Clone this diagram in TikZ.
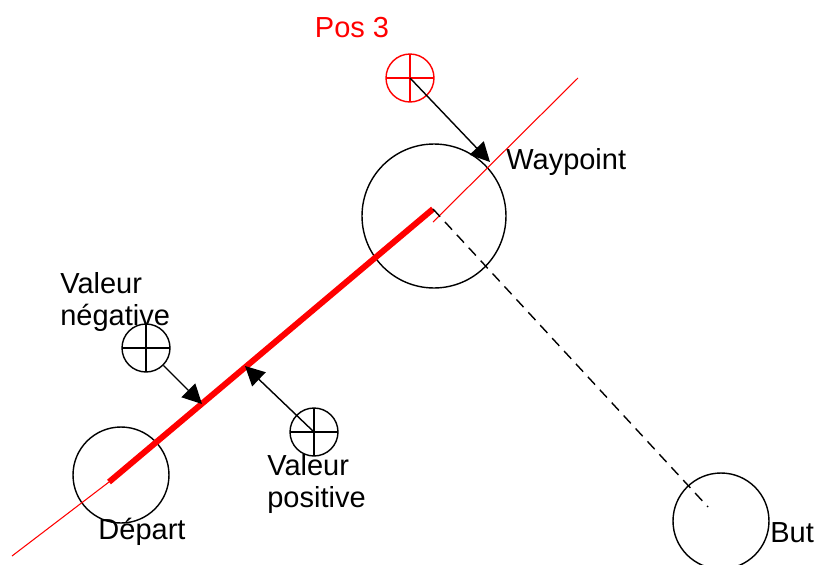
\documentclass[tikz,border=0pt]{standalone}
\usepackage{fontspec}
\setmainfont{Liberation Sans}
\usepackage{tikz}
\usetikzlibrary{arrows.meta,positioning}

\begin{document}
\begin{tikzpicture}[
  x=0.02cm,y=-0.02cm,
  zone/.style={draw,circle,line width=0.8pt,inner sep=0pt,minimum size=#1},
  cible/.style={draw=#1,circle,line width=0.8pt,inner sep=0pt,minimum size=0.96cm,
                path picture={\draw[#1,line width=0.8pt]
                  (path picture bounding box.north) -- (path picture bounding box.south)
                  (path picture bounding box.west) -- (path picture bounding box.east);}},
  lbl/.style={font=\fontsize{16.5}{18.5}\selectfont,inner sep=0pt,align=left},
  arr/.style={-{Triangle[length=11pt,width=11pt]},line width=0.8pt},
  route/.style={red,line width=3.4pt},
  trace/.style={red,line width=0.6pt}
]
  \useasboundingbox (0,0) rectangle (816,565);

  % ── Zones ────────────────────────────────────────────────────────────────
  \node[zone=1.92cm] (depart) at (121,475) {};
  \node[zone=2.88cm] (wp)     at (434,216) {};
  \node[zone=1.92cm] (but)    at (721,521) {};

  \node[lbl,anchor=center] at (142,532) {Départ};
  \node[lbl,anchor=west]   at (506,162) {Waypoint};
  \node[lbl,anchor=west]   at (770,533) {But};

  % ── Segment parcouru ─────────────────────────────────────────────────────
  \coordinate (a0) at (12,556);
  \coordinate (a1) at (109,482);
  \coordinate (a2) at (433,209);
  \coordinate (a3) at (433,222);
  \coordinate (a4) at (578,78);
  \coordinate (fin) at (708,507);

  \draw[trace] (a0) -- (a1);
  \draw[route] (a1) -- (a2);
  \draw[trace] (a3) -- (a4);
  \draw[dashed,line width=0.8pt,dash pattern=on 6pt off 4pt] (a2) -- (fin);

  % ── Positions ────────────────────────────────────────────────────────────
  \node[cible=red]   (pos3) at (410,78)  {};
  \node[cible=black] (neg)  at (146,348) {};
  \node[cible=black] (posv) at (314,432) {};

  \node[lbl,red,anchor=center] at (352,28) {Pos 3};
  \node[lbl,anchor=west] at (60,302) {Valeur\\négative};
  \node[lbl,anchor=west] at (267,484) {Valeur\\positive};

  \coordinate (pW) at (490,162);
  \coordinate (pN) at (202,404);
  \coordinate (pP) at (245,366);

  \draw[arr] (pos3.center) -- (pW);
  \draw[arr] (neg) -- (pN);
  \draw[arr] (posv.center) -- (pP);
\end{tikzpicture}
\end{document}
